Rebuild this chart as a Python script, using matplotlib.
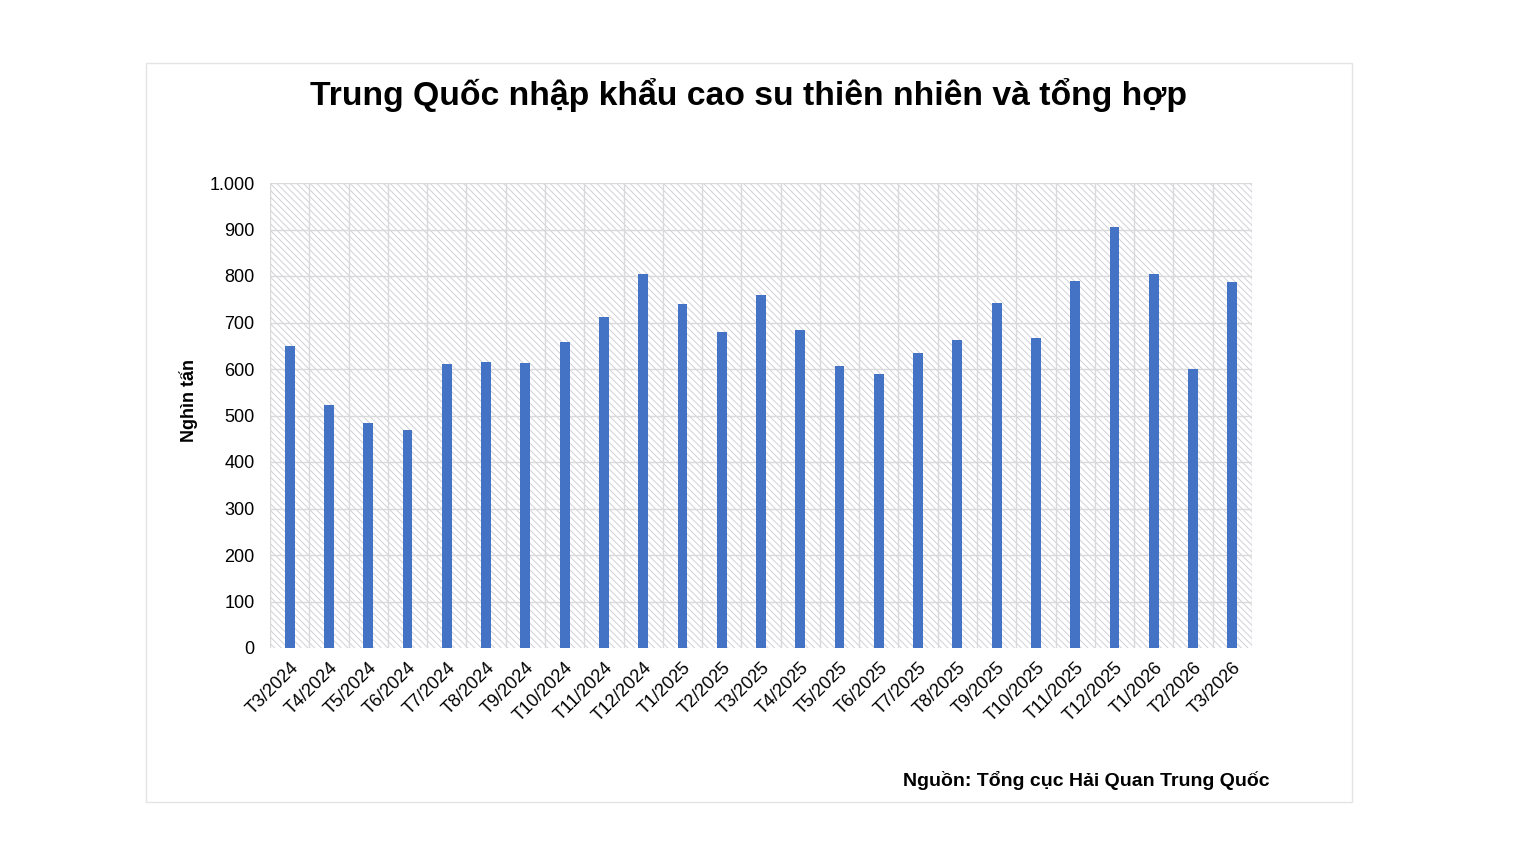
import matplotlib.pyplot as plt
from matplotlib.patches import Rectangle
from matplotlib.ticker import FuncFormatter

months = ['T3/2024', 'T4/2024', 'T5/2024', 'T6/2024', 'T7/2024', 'T8/2024', 'T9/2024',
          'T10/2024', 'T11/2024', 'T12/2024', 'T1/2025', 'T2/2025', 'T3/2025', 'T4/2025',
          'T5/2025', 'T6/2025', 'T7/2025', 'T8/2025', 'T9/2025', 'T10/2025', 'T11/2025',
          'T12/2025', 'T1/2026', 'T2/2026', 'T3/2026']
values = [650, 523, 484, 469, 611, 615, 613, 658, 712, 804, 740, 680, 759, 684,
          606, 589, 634, 662, 742, 667, 789, 905, 804, 600, 787]

plt.rcParams['font.family'] = ['Liberation Sans', 'DejaVu Sans']
plt.rcParams['hatch.color'] = '#d0d0da'
plt.rcParams['hatch.linewidth'] = 0.7

fig = plt.figure(figsize=(15.4, 8.66), dpi=100)
fig.patches.append(Rectangle((146 / 1540, 1 - 802 / 866), 1206 / 1540, 739 / 866,
                             transform=fig.transFigure, fill=False, edgecolor='#e4e4e4', lw=1))
ax = fig.add_axes([270 / 1540, 1 - 648 / 866, 982 / 1540, 465 / 866])
ax.add_patch(Rectangle((0, 0), 1, 1, transform=ax.transAxes, facecolor='white',
                       hatch='\\\\\\\\\\', edgecolor='#d0d0da', lw=0, zorder=0))

x = range(len(months))
ax.bar(x, values, width=0.25, color='#4472c4', zorder=3)
ax.set_xlim(-0.5, len(months) - 0.5)
ax.set_ylim(0, 1000)
ax.set_yticks(range(0, 1001, 100))
ax.yaxis.set_major_formatter(FuncFormatter(lambda v, p: f'{int(v):,}'.replace(',', '.')))
for y in range(100, 1001, 100):
    ax.axhline(y, color='#d9d9d9', lw=1, zorder=1)
for i in range(len(months) + 1):
    ax.axvline(i - 0.5, color='#d9d9d9', lw=1, zorder=1)
ax.set_xticks(list(x))
ax.set_xticklabels(months, rotation=45, ha='right', rotation_mode='anchor', fontsize=13)
ax.tick_params(axis='y', labelsize=13, length=0, pad=11)
ax.tick_params(axis='x', length=0, pad=8)
for s in ax.spines.values():
    s.set_visible(False)
ax.set_ylabel('Nghìn tấn', fontsize=13, fontweight='bold')
ax.yaxis.set_label_coords(-0.073, 0.533)

fig.text(0.486, 1 - 95 / 866, 'Trung Quốc nhập khẩu cao su thiên nhiên và tổng hợp',
         ha='center', va='center', fontsize=24.3, fontweight='bold')
fig.text(1270 / 1540, 1 - 781 / 866, 'Nguồn: Tổng cục Hải Quan Trung Quốc',
         ha='right', va='center', fontsize=14, fontweight='bold')

fig.savefig('out.png', dpi=100, facecolor='white')
